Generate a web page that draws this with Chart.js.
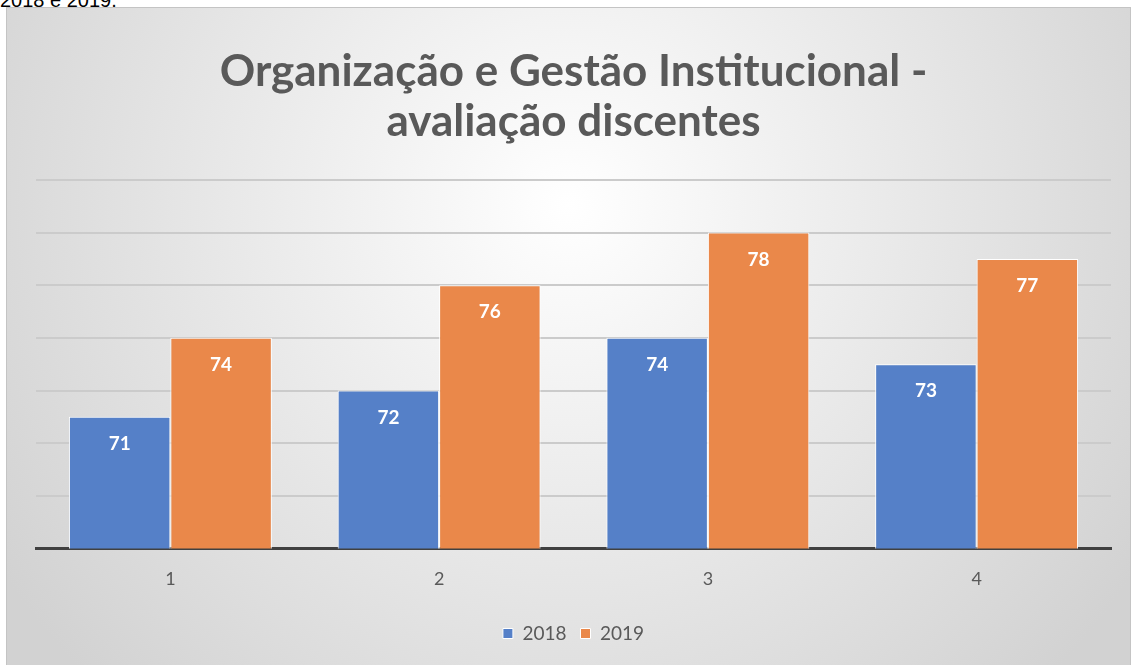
<!DOCTYPE html>
<html><head><meta charset="utf-8">
<script src="https://cdn.jsdelivr.net/npm/chart.js@4/dist/chart.umd.min.js"></script>
<style>
html,body{margin:0;padding:0;background:#fff;width:1131px;height:665px;overflow:hidden;}
#top{position:absolute;left:0;top:-11px;font:20px Arial, "Liberation Sans", sans-serif;color:#000;}
#wrap{position:absolute;left:6px;top:7px;width:1125px;height:658px;}
</style></head>
<body>
<div id="top">2018 e 2019.</div>
<div id="wrap"><canvas id="c" width="1125" height="658"></canvas></div>
<script>
const categories = ['1','2','3','4'];
const seriesNames = ['2018','2019'];
const values2018 = [71,72,74,73];
const values2019 = [74,76,78,77];
const titleLines = ['Organização e Gestão Institucional -','avaliação discentes'];

const FONT = 'Lato, "Open Sans", sans-serif';

const bgPlugin = {
  id:'bg',
  beforeDraw(chart){
    const {ctx,width,height} = chart;
    ctx.save();
    const g = ctx.createRadialGradient(width/2, height*0.3, 0, width/2, height*0.3, width*0.6);
    g.addColorStop(0,'#ffffff');
    g.addColorStop(1,'#d2d2d2');
    ctx.fillStyle = g;
    ctx.fillRect(0,0,width,height);
    ctx.strokeStyle = '#c4c4c4';
    ctx.lineWidth = 1;
    ctx.strokeRect(0.5,0.5,width-1,height+5);
    ctx.restore();
  }
};

const labelPlugin = {
  id:'barLabels',
  afterDatasetsDraw(chart){
    const {ctx} = chart;
    ctx.save();
    ctx.font = 'bold 19px ' + FONT;
    ctx.fillStyle = '#ffffff';
    ctx.textAlign = 'center';
    ctx.textBaseline = 'middle';
    chart.data.datasets.forEach((ds,i)=>{
      chart.getDatasetMeta(i).data.forEach((bar,j)=>{
        ctx.fillText(String(ds.data[j]), bar.x, bar.y + 27);
      });
    });
    ctx.restore();
  }
};

new Chart(document.getElementById('c'), {
  type:'bar',
  data:{
    labels: categories,
    datasets:[
      {label:seriesNames[0], data:values2018, backgroundColor:'#5580c8', borderColor:'#ffffff', borderWidth:1, borderSkipped:'bottom'},
      {label:seriesNames[1], data:values2019, backgroundColor:'#ea884a', borderColor:'#ffffff', borderWidth:1, borderSkipped:'bottom'}
    ]
  },
  options:{
    responsive:false,
    animation:false,
    layout:{padding:{left:30, right:20, top:0, bottom:12}},
    datasets:{bar:{categoryPercentage:0.755, barPercentage:1}},
    plugins:{
      title:{display:true, text:titleLines, color:'#595959', font:{family:FONT, size:44, weight:'bold', lineHeight:1.136}, padding:{top:40, bottom:33}},
      legend:{position:'bottom', labels:{color:'#595959', font:{family:FONT, size:19}, boxWidth:10, boxHeight:10, padding:14}},
      tooltip:{enabled:false}
    },
    scales:{
      x:{
        grid:{display:false, drawTicks:false},
        border:{display:true, color:'#404040', width:3},
        ticks:{color:'#595959', font:{family:FONT, size:18}, padding:20}
      },
      y:{
        min:66, max:80,
        ticks:{display:false, stepSize:2},
        grid:{color:'#cbcbcb', lineWidth:2, drawTicks:false},
        border:{display:false}
      }
    }
  },
  plugins:[bgPlugin, labelPlugin]
});
</script>
</body></html>
